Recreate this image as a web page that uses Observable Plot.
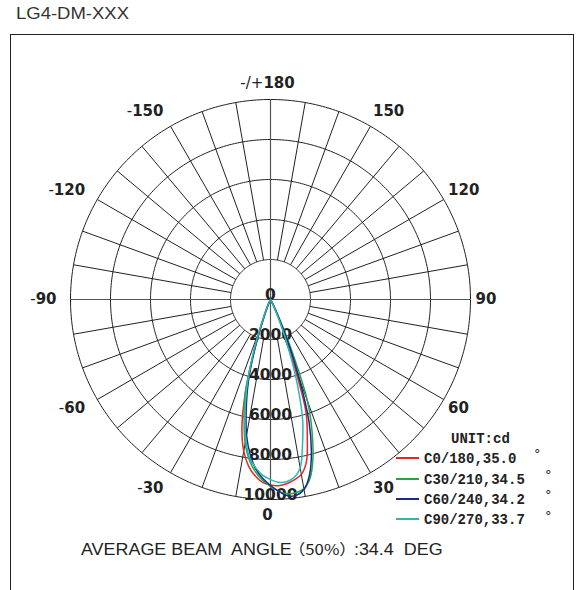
<!DOCTYPE html>
<html>
<head>
<meta charset="utf-8">
<script src="https://cdn.jsdelivr.net/npm/d3@7"></script>
<script src="https://cdn.jsdelivr.net/npm/@observablehq/plot@0.6"></script>
<style>
  html, body { margin: 0; padding: 0; background: #fff; }
  body { width: 577px; height: 590px; overflow: hidden; position: relative; font-family: "Liberation Sans", Arial, sans-serif; }
  #frame { position: absolute; left: 10px; top: 34px; width: 564px; height: 620px; border: 1.4px solid #222; box-sizing: border-box; }
  #chart { position: absolute; left: 0; top: 0; }
  #title { position: absolute; left: 16px; top: 5px; font-size: 16.5px; line-height: 16px; color: #333; transform: scaleX(1.12); transform-origin: 0 0; white-space: pre; }
  #caption { position: absolute; left: 81px; top: 541px; font-size: 16px; line-height: 16px; color: #222; transform: scaleX(1.12); transform-origin: 0 0; white-space: pre; }
  #caption .p { font-family: "Noto Sans CJK SC", sans-serif; font-size: 15px; margin-left: -3px; margin-right: -2px; }
  #legend { position: absolute; left: 0; top: 0; font-family: "Liberation Mono", "Courier New", monospace; font-weight: bold; font-size: 14px; color: #222; }
  #legend .t { position: absolute; line-height: 16px; white-space: pre; }
  #legend .sw { position: absolute; width: 23px; height: 1.6px; }
  #legend .deg { position: absolute; font-family: "DejaVu Sans", sans-serif; font-weight: normal; font-size: 13px; line-height: 14px; }
</style>
</head>
<body>
<div id="frame"></div>
<div id="chart"></div>
<div id="title">LG4-DM-XXX</div>
<div id="caption">AVERAGE BEAM  ANGLE<span class="p">（50%）</span>:34.4  DEG</div>
<div id="legend"></div>
<script>
// ---- data ----
const SERIES = ["C0/180", "C30/210", "C60/240", "C90/270"];
const BEAM_ANGLES = ["35.0", "34.5", "34.2", "33.7"];
const COLORS = ["#e8262b", "#1fa845", "#1b2a8f", "#2bb8b2"];
const UNIT = "UNIT:cd";

// gamma angles (deg, negative = C180.. side, positive = C0.. side)
const GAMMA = [-90, -30, -25, -20, -17.5, -15, -12.5, -10, -7.5, -5, -2.5, 0,
               2.5, 5, 7.5, 10, 12.5, 15, 17.5, 20, 22.5, 25, 30, 90];
// intensities (cd)
const C0_180  = [0, 0, 150, 1100, 2700, 4900, 6600, 7700, 8400, 8850, 9150, 9280,
                 9320, 9250, 9100, 8880, 8300, 7100, 5900, 3300, 1500, 500, 50, 0];
const C30_210 = [0, 0, 200, 1300, 2900, 4900, 6100, 7300, 8100, 8650, 9050, 9350,
                 9600, 9750, 9750, 9600, 9150, 8200, 6900, 5400, 2800, 900, 100, 0];
const C60_240 = [0, 0, 200, 1200, 2700, 4300, 5600, 6900, 7800, 8500, 8950, 9300,
                 9600, 9850, 9880, 9650, 9000, 7900, 6400, 4200, 2200, 800, 80, 0];
const C90_270 = [0, 0, 250, 1500, 3000, 4600, 5900, 7100, 8000, 8450, 8800, 9000,
                 9150, 9150, 8980, 8550, 7400, 6200, 4500, 2700, 1300, 400, 50, 0];
const VALUES = [C0_180, C30_210, C60_240, C90_270];

const RINGS = [2000, 4000, 6000, 8000, 10000];
const RING_LABELS = [0, 2000, 4000, 6000, 8000, 10000];
const ANGLE_TICKS = [0, 30, 60, 90, 120, 150, 180, -150, -120, -90, -60, -30];
const ANGLE_TEXT = ["0", "30", "60", "90", "120", "150", "-/+180", "-150", "-120", "-90", "-60", "-30"];

// ---- geometry helpers (polar -> cartesian in cd units) ----
const RMAX = 10000;
const rad = a => a * Math.PI / 180;
const px = (r, a) => r * Math.sin(rad(a));
const py = (r, a) => r * Math.cos(rad(a));

const curveRows = SERIES.flatMap((s, i) => GAMMA.map((g, j) => ({s, g, v: VALUES[i][j]})));
const ringRows = RINGS.flatMap(r => d3.range(0, 361, 1).map(a => ({r, a})));
const spokes = d3.range(0, 360, 10).filter(a => a % 90 !== 0);
const axes = [0, 90];
const labelRows = ANGLE_TICKS.map((a, i) => ({a, t: ANGLE_TEXT[i]}));
const rightLabels = labelRows.filter(d => d.a > 0 && d.a < 180);
const leftLabels = labelRows.filter(d => d.a < 0);
const midLabels = labelRows.filter(d => d.a === 0 || d.a === 180);

const labelStyle = {fontSize: 15, fontWeight: "bold", fontFamily: "DejaVu Sans", fill: "#222", lineAnchor: "middle"};

const plot = Plot.plot({
  width: 577,
  height: 590,
  margin: 0,
  x: {domain: [-13500, 15350], range: [0, 577], axis: null},
  y: {domain: [-14950, 14550], range: [0, 590], axis: null},
  color: {domain: SERIES, range: COLORS},
  style: {background: "transparent", overflow: "visible"},
  marks: [
    Plot.line(ringRows, {x: d => px(d.r, d.a), y: d => py(d.r, d.a), z: "r", stroke: "#222", strokeWidth: 1}),
    Plot.link(spokes, {x1: a => px(2000, a), y1: a => py(2000, a), x2: a => px(RMAX, a), y2: a => py(RMAX, a), stroke: "#222", strokeWidth: 1}),
    Plot.link(axes, {x1: a => px(-RMAX, a), y1: a => py(-RMAX, a), x2: a => px(RMAX, a), y2: a => py(RMAX, a), stroke: "#555", strokeWidth: 1.2}),
    Plot.text(rightLabels, {x: d => px(10250, d.a), y: d => py(10900, d.a), text: "t", textAnchor: "start", ...labelStyle}),
    Plot.text(leftLabels, {x: d => px(10700, d.a), y: d => py(10900, d.a), text: "t", textAnchor: "end", ...labelStyle}),
    Plot.text(midLabels, {x: d => px(10800, d.a), y: d => py(10800, d.a), text: "t", textAnchor: "middle", dx: -3, ...labelStyle}),
    Plot.text(RING_LABELS, {x: () => 0, y: d => d, text: d => String(d), fontSize: 15.5, fontWeight: "bold", fontFamily: "DejaVu Sans", fill: "#222", lineAnchor: "bottom", textAnchor: "middle"}),
    Plot.line(curveRows, {x: d => px(d.v, d.g), y: d => py(d.v, d.g), z: "s", stroke: "s", strokeWidth: 1.5, curve: "catmull-rom"})
  ]
});
document.getElementById("chart").appendChild(plot);

// lighter prefix for signed angle labels
plot.querySelectorAll("text").forEach(t => {
  const s = t.textContent;
  const m = s.match(/^(-\/\+|-)(\d+)$/);
  if (m) {
    t.textContent = "";
    const ns = "http://www.w3.org/2000/svg";
    const a = document.createElementNS(ns, "tspan");
    a.setAttribute("font-weight", "normal");
    a.textContent = m[1];
    const b = document.createElementNS(ns, "tspan");
    b.textContent = m[2];
    t.appendChild(a); t.appendChild(b);
  }
});

// ---- legend ----
const legend = document.getElementById("legend");
const u = document.createElement("div");
u.className = "t"; u.textContent = UNIT; u.style.left = "451px"; u.style.top = "431px";
legend.appendChild(u);
const ROW_Y = [458, 479, 499, 519];
const DEG_X = [537, 548, 548, 548];
const DEG_Y = [451, 472, 492, 513];
SERIES.forEach((s, i) => {
  const sw = document.createElement("div");
  sw.className = "sw"; sw.style.left = "396px"; sw.style.top = (ROW_Y[i] - 1) + "px"; sw.style.background = COLORS[i];
  legend.appendChild(sw);
  const t = document.createElement("div");
  t.className = "t"; t.textContent = s + "," + BEAM_ANGLES[i];
  t.style.left = "424px"; t.style.top = (ROW_Y[i] - 7) + "px";
  legend.appendChild(t);
  const d = document.createElement("div");
  d.className = "deg"; d.textContent = "°";
  d.style.left = (DEG_X[i] - 3) + "px"; d.style.top = (DEG_Y[i] - 4) + "px";
  legend.appendChild(d);
});
</script>
</body>
</html>
